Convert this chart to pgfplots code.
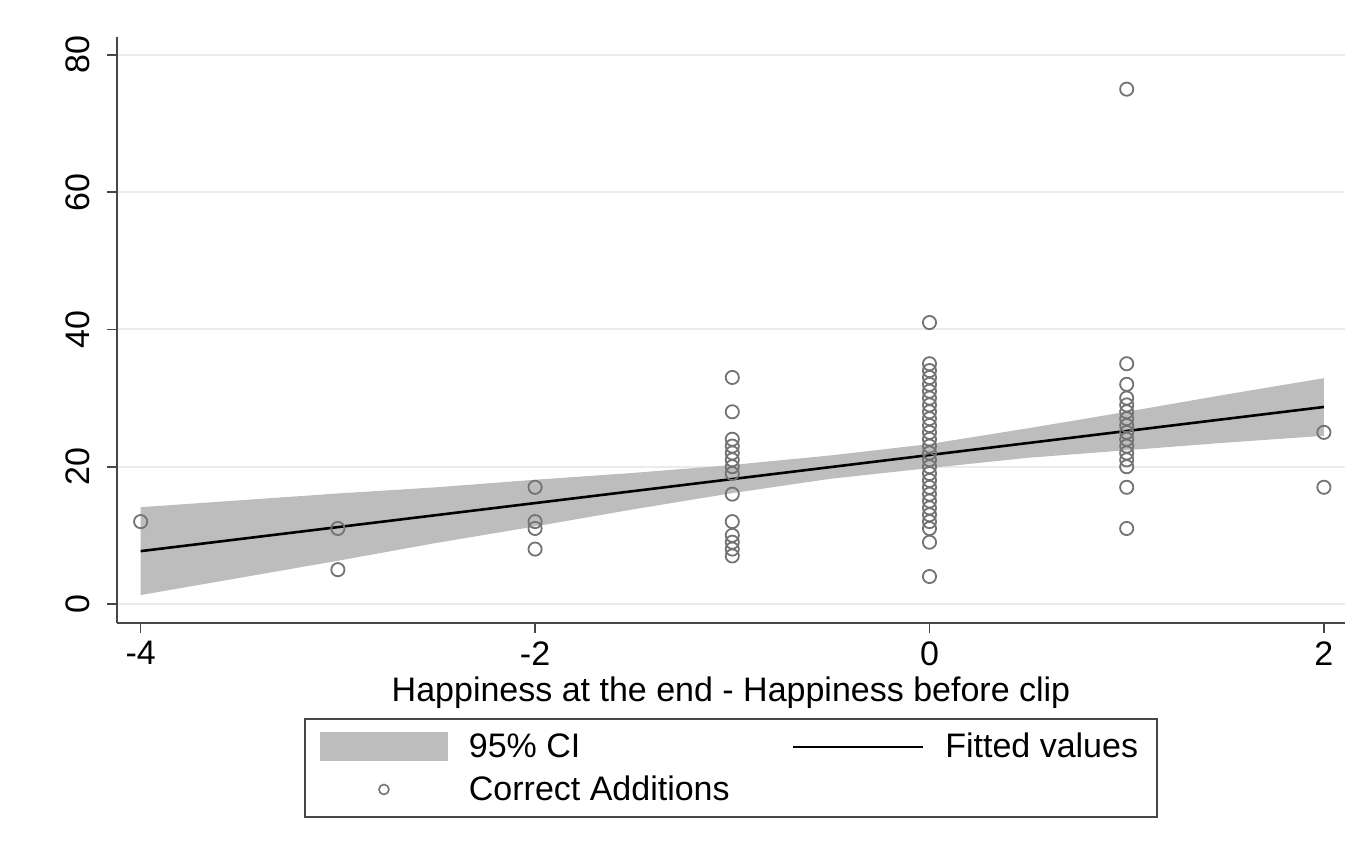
\documentclass[border=0pt]{standalone}
\usepackage{fontspec}
\setmainfont{Liberation Sans}
\usepackage{pgfplots}
\pgfplotsset{compat=1.18}

\definecolor{cifill}{RGB}{189,189,189}
\definecolor{dotgray}{RGB}{115,115,115}
\definecolor{gridgray}{RGB}{235,235,235}
\definecolor{axisgray}{RGB}{70,70,70}

\pgfplotstableread{
x y
-4 12
-3 11
-3 5
-2 17
-2 12
-2 11
-2 8
-1 33
-1 28
-1 24
-1 23
-1 22
-1 21
-1 20
-1 19
-1 16
-1 12
-1 10
-1 9
-1 8
-1 7
0 41
0 35
0 34
0 33
0 32
0 31
0 30
0 29
0 28
0 27
0 26
0 25
0 24
0 23
0 22
0 21
0 20
0 19
0 18
0 17
0 16
0 15
0 14
0 13
0 12
0 11
0 9
0 4
1 75
1 35
1 32
1 30
1 29
1 28
1 27
1 26
1 25
1 24
1 23
1 22
1 21
1 20
1 17
1 11
2 25
2 17
}\additions

\begin{document}
\begin{tikzpicture}
\path (-58.5pt,-111.5pt) rectangle (623pt,311.5pt);
\begin{axis}[
scale only axis,
width=614pt, height=293pt,
xmin=-4.12, xmax=2.107,
ymin=-2.77, ymax=82.6,
axis x line*=bottom, axis y line*=left,
axis line style={axisgray, line width=1.2pt, -},
xtick={-4,-2,0,2}, xticklabels={-4,-2,0,2},
ytick={0,20,40,60,80}, yticklabels={0,20,40,60,80},
tick align=outside,
major tick length=5pt,
tick style={axisgray, line width=0.8pt},
ymajorgrids,
grid style={gridgray, line width=1pt},
tick label style={font=\fontsize{17}{20}\selectfont, inner sep=0pt},
xticklabel style={anchor=north},
xticklabel shift=4pt,
yticklabel style={rotate=90, anchor=south},
yticklabel shift=8.5pt,
xlabel={Happiness at the end - Happiness before clip},
xlabel style={font=\fontsize{17}{20}\selectfont, at={(axis description cs:0.5,0)}, anchor=north, yshift=-26.5pt, inner sep=0pt},
legend columns=2,
legend cell align=left,
legend style={at={(0.5,0)}, anchor=north, yshift=-47.5pt,
  draw=axisgray, line width=1pt, font=\fontsize{17}{20}\selectfont,
  inner xsep=7.5pt, inner ysep=5pt, row sep=3.5pt,
  /tikz/every odd column/.append style={column sep=8.5pt},
  /tikz/every even column/.append style={column sep=29pt}},
]
\addplot[fill=cifill, draw=none,
  legend image code/.code={\fill[cifill] (0pt,-7.25pt) rectangle (64pt,7.25pt);}]
  coordinates {(-4,14.1) (-3.5,15.1) (-3,16.1) (-2.5,17.0) (-2,18.1) (-1.5,19.1)
  (-1,20.25) (-0.5,21.65) (0,23.3) (0.5,25.6) (1,28.0) (1.5,30.5) (2,32.9)
  (2,24.5) (1.5,23.5) (1,22.4) (0.5,21.3) (0,19.8) (-0.5,18.25) (-1,16.15)
  (-1.5,13.8) (-2,11.3) (-2.5,8.9) (-3,6.3) (-3.5,3.8) (-4,1.3)} -- cycle;
\addlegendentry{95\% CI}
\addplot[black, line width=1.3pt,
  legend image code/.code={\draw[black, line width=1.3pt] (0pt,0pt) -- (65pt,0pt);}]
  coordinates {(-4,7.7) (2,28.7)};
\addlegendentry{Fitted values}
\addplot[only marks, mark=o, mark size=3.3pt, dotgray, mark options={line width=0.9pt},
  legend image code/.code={\draw[dotgray, line width=0.8pt] (32pt,0pt) circle (2.5pt);}]
  table[x=x, y=y] {\additions};
\addlegendentry{Correct Additions}
\end{axis}
\end{tikzpicture}
\end{document}
